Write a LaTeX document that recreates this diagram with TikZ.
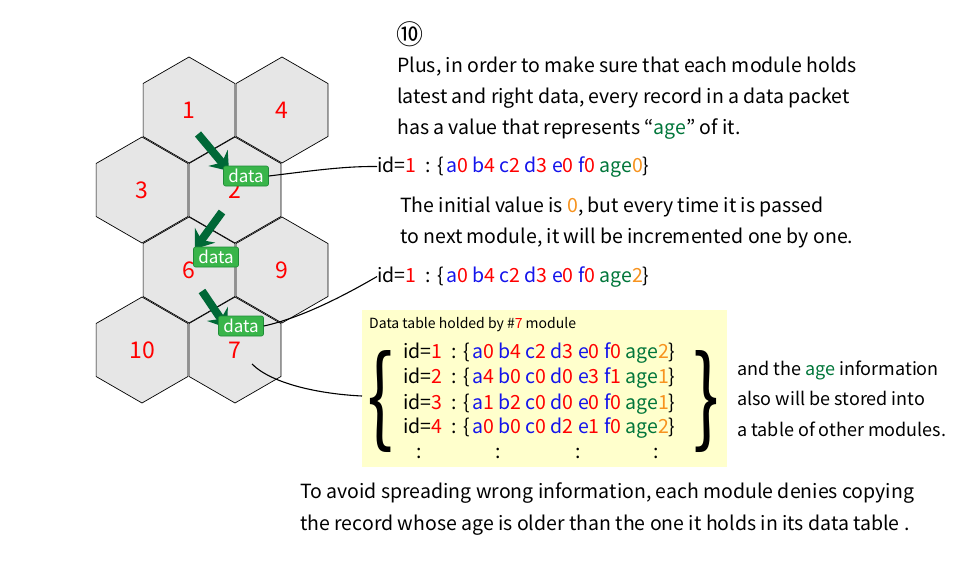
\documentclass[tikz,border=0pt]{standalone}
\usepackage{fontspec}
\setmainfont{Noto Sans CJK JP}
\usepackage{graphicx}
\usetikzlibrary{shapes.geometric,arrows.meta}
\definecolor{hexfill}{RGB}{230,230,230}
\definecolor{nred}{RGB}{255,0,0}
\definecolor{kblue}{RGB}{20,20,235}
\definecolor{agreen}{RGB}{0,118,58}
\definecolor{aorange}{RGB}{247,147,30}
\definecolor{dgreen}{RGB}{0,104,55}
\definecolor{boxgreen}{RGB}{57,181,74}
\definecolor{boxborder}{RGB}{30,140,55}
\definecolor{tblfill}{RGB}{255,255,204}
\newcommand\kv[2]{{\color{kblue}#1}{\color{nred}#2}}
\newcommand\ag[1]{{\color{agreen}age}{\color{aorange}#1}}
\newcommand\rec[2]{id={\color{nred}#1}\hspace{9pt}:\hspace{7pt}\{\hspace{2pt}#2\}}
\tikzset{
  hexa/.style={regular polygon, regular polygon sides=6, shape border rotate=30,
    minimum size=106pt, inner sep=0pt, draw=black, line width=0.7pt, fill=hexfill,
    text=nred, font=\fontsize{23}{23}\selectfont},
  databox/.style={draw=boxborder, fill=boxgreen, rounded corners=2pt, text=white,
    font=\fontsize{17}{17}\selectfont, minimum width=45pt, minimum height=20pt,
    inner sep=0pt, line width=0.6pt},
  garrow/.style={draw=dgreen, line width=8pt, -{Stealth[length=17pt, width=25pt, inset=6pt]}},
  conn/.style={draw=black, line width=1.1pt},
  txt/.style={anchor=base west, inner sep=0pt, font=\fontsize{19.5}{19.5}\selectfont},
  stxt/.style={anchor=base west, inner sep=0pt, font=\fontsize{14}{14}\selectfont},
  rtxt/.style={anchor=base west, inner sep=0pt, font=\fontsize{18}{18}\selectfont},
  colon/.style={anchor=base, inner sep=0pt, font=\fontsize{19.5}{19.5}\selectfont},
}
\begin{document}
\begin{tikzpicture}[x=1pt,y=-1pt]
\useasboundingbox[fill=white] (0,0) rectangle (960,560);
% hexagons
\node[hexa] (h1) at (189,110) {1};
\node[hexa] (h4) at (282,110) {4};
\node[hexa] (h3) at (142,190) {3};
\node[hexa] (h2) at (235,190) {2};
\node[hexa] (h6) at (189,270) {6};
\node[hexa] (h9) at (282,270) {9};
\node[hexa] (h10) at (142,350) {10};
\node[hexa] (h7) at (235,350) {7};
% arrows
\coordinate (a1s) at (198,134);
\coordinate (a1e) at (229,171);
\coordinate (a2s) at (222,212);
\coordinate (a2e) at (195,249);
\coordinate (a3s) at (202,291);
\coordinate (a3e) at (227,328);
\draw[garrow] (a1s) -- (a1e);
\draw[garrow] (a2s) -- (a2e);
\draw[garrow] (a3s) -- (a3e);
% data boxes
\node[databox] (d1) at (246,176) {data};
\node[databox] (d2) at (216,257) {data};
\node[databox] (d3) at (241,326) {data};
% text
\node[font=\fontsize{27}{27}\selectfont, inner sep=0pt] (num) at (410,34) {⑩};
\node[txt] (p1) at (397,72) {Plus, in order to make sure that each module holds};
\node[txt] (p2) at (397,103) {latest and right data, every record in a data packet};
\node[txt] (p3) at (397,134) {has a value that represents “{\color{agreen}age}” of it.};
\node[txt] (r1) at (377,172) {\rec{1}{\kv{a}{0} \kv{b}{4} \kv{c}{2} \kv{d}{3} \kv{e}{0} \kv{f}{0} \ag{0}}};
\node[txt] (i1) at (400,212) {The initial value is {\color{aorange}0}, but every time it is passed};
\node[txt] (i2) at (400,243) {to next module, it will be incremented one by one.};
\node[txt] (r2) at (377,282) {\rec{1}{\kv{a}{0} \kv{b}{4} \kv{c}{2} \kv{d}{3} \kv{e}{0} \kv{f}{0} \ag{2}}};
% table
\node[fill=tblfill, minimum width=365pt, minimum height=157pt, inner sep=0pt, anchor=north west] (tbl) at (362,310) {};
\node[stxt] (tt) at (369,328) {Data table holded by \#{\color{nred}7} module};
\node[txt] (t1) at (403,358) {\rec{1}{\kv{a}{0} \kv{b}{4} \kv{c}{2} \kv{d}{3} \kv{e}{0} \kv{f}{0} \ag{2}}};
\node[txt] (t2) at (403,383) {\rec{2}{\kv{a}{4} \kv{b}{0} \kv{c}{0} \kv{d}{0} \kv{e}{3} \kv{f}{1} \ag{1}}};
\node[txt] (t3) at (403,409) {\rec{3}{\kv{a}{1} \kv{b}{2} \kv{c}{0} \kv{d}{0} \kv{e}{0} \kv{f}{0} \ag{1}}};
\node[txt] (t4) at (403,433) {\rec{4}{\kv{a}{0} \kv{b}{0} \kv{c}{0} \kv{d}{2} \kv{e}{1} \kv{f}{0} \ag{2}}};
\node[colon] (k1) at (419,458) {:};
\node[colon] (k2) at (498,458) {:};
\node[colon] (k3) at (578,458) {:};
\node[colon] (k4) at (656,458) {:};
\node[inner sep=0pt] (lb) at (380,402) {\resizebox*{26pt}{102pt}{\{}};
\node[inner sep=0pt] (rb) at (706,402) {\resizebox*{26pt}{102pt}{\}}};
\node[rtxt] (s1) at (737,375) {and the {\color{agreen}age} information};
\node[rtxt] (s2) at (737,405) {also will be stored into};
\node[rtxt] (s3) at (737,436) {a table of other modules.};
\node[txt] (b1) at (300,498) {To avoid spreading wrong information, each module denies copying};
\node[txt] (b2) at (300,530) {the record whose age is older than the one it holds in its data table .};
% connectors
\coordinate (s7) at (252,364);
\coordinate (c7) at (362,396);
\draw[conn] (d1.east) .. controls (310,171) and (345,166) .. (r1.west);
\draw[conn] (d3.east) .. controls (300,318) and (340,298) .. (r2.west);
\draw[conn] (s7) .. controls (272,384) and (320,394) .. (c7);
\end{tikzpicture}
\end{document}
